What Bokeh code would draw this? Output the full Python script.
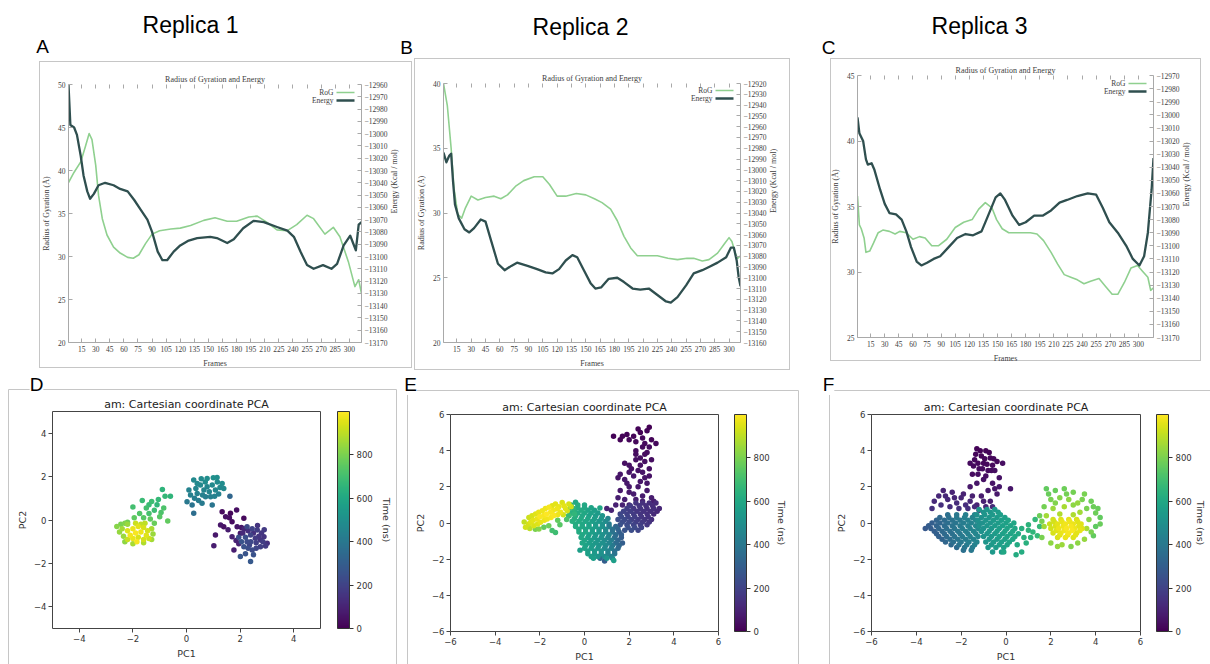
import math
from bokeh.plotting import figure
from bokeh.models import (Range1d, LinearAxis, FixedTicker, Label, BoxAnnotation, Arrow,
                          ColorBar, LinearColorMapper, ColumnDataSource)
from bokeh.layouts import row, column
from bokeh.palettes import Viridis256
from bokeh.embed import file_html
from bokeh.resources import INLINE

# ---------------------------------------------------------------- data: RoG / Energy
frame_ticks = [15, 30, 45, 60, 75, 90, 105, 120, 135, 150, 165, 180, 195, 210, 225, 240, 255, 270, 285, 300]

a_rog_ticks = [20, 25, 30, 35, 40, 45, 50]
a_en_ticks = [-13170, -13160, -13150, -13140, -13130, -13120, -13110, -13100, -13090, -13080, -13070,
              -13060, -13050, -13040, -13030, -13020, -13010, -13000, -12990, -12980, -12970, -12960]
b_rog_ticks = [20, 25, 30, 35, 40]
b_en_ticks = [-13160, -13150, -13140, -13130, -13120, -13110, -13100, -13090, -13080, -13070, -13060,
              -13050, -13040, -13030, -13020, -13010, -13000, -12990, -12980, -12970, -12960, -12950,
              -12940, -12930, -12920]
c_rog_ticks = [25, 30, 35, 40, 45]
c_en_ticks = [-13170, -13160, -13150, -13140, -13130, -13120, -13110, -13100, -13090, -13080, -13070,
              -13060, -13050, -13040, -13030, -13020, -13010, -13000, -12990, -12980, -12970]

a_rog_f = [1, 7, 14, 19, 23, 26, 30, 33, 37, 42, 49, 56, 64, 70, 76, 83, 90, 98, 110, 120,
           131, 145, 157, 170, 180, 193, 202, 212, 223, 234, 244, 255, 262, 274, 283, 290, 299, 306, 310, 313]
a_rog = [38.6, 39.8, 41.0, 42.8, 44.3, 43.6, 40.6, 37.1, 34.4, 32.5, 31.1, 30.4, 29.9, 29.8, 30.2, 31.5, 32.6, 33.0, 33.2, 33.3,
         33.6, 34.2, 34.5, 34.1, 34.1, 34.6, 34.7, 34.0, 33.1, 33.0, 33.7, 34.8, 34.4, 32.6, 33.4, 32.3, 29.4, 26.5, 27.3, 25.7]
a_en_f = [1, 3, 7, 10, 14, 17, 21, 24, 28, 33, 40, 49, 56, 64, 71, 78, 85, 90, 96, 101,
          106, 113, 120, 129, 138, 152, 159, 170, 177, 187, 198, 209, 223, 234, 241, 248, 255, 262, 272, 281,
          287, 294, 301, 304, 307, 310, 313]
a_en = [-12960, -12993, -12995, -13001, -13018, -13034, -13047, -13053, -13049, -13042,
        -13040, -13042, -13045, -13047, -13054, -13062, -13070, -13080, -13096, -13103,
        -13103, -13096, -13091, -13087, -13085, -13084, -13085, -13089, -13086, -13077,
        -13071, -13072, -13076, -13079, -13084, -13096, -13107, -13110, -13107, -13110,
        -13106, -13091, -13083, -13089, -13095, -13074, -13072]

b_rog_f = [1, 5, 9, 12, 16, 20, 24, 30, 37, 45, 54, 61, 68, 77, 85, 96, 105, 112, 120, 129,
           140, 150, 159, 167, 176, 183, 190, 197, 204, 215, 225, 236, 246, 256, 263, 272, 279, 288, 295, 300,
           303, 307, 309, 312]
b_rog = [40.0, 38.3, 35.0, 31.9, 29.9, 29.6, 30.4, 31.3, 31.0, 31.2, 31.3, 31.1, 31.4, 32.1, 32.5, 32.8, 32.8, 32.2, 31.3, 31.3,
         31.5, 31.4, 31.1, 30.8, 30.3, 29.4, 28.2, 27.3, 26.7, 26.7, 26.7, 26.5, 26.4, 26.5, 26.5, 26.3, 26.4, 26.9, 27.6, 28.1,
         27.8, 26.8, 26.5, 26.7]
b_en_f = [1, 4, 7, 9, 11, 13, 17, 23, 28, 33, 40, 45, 51, 58, 65, 72, 78, 89, 99, 108,
          115, 122, 129, 136, 141, 148, 155, 160, 166, 174, 183, 190, 199, 207, 216, 225, 234, 239, 246, 255,
          263, 272, 279, 288, 297, 302, 305, 308, 310, 312]
b_en = [-12984, -12993, -12987, -12985, -13011, -13032, -13045, -13055, -13058, -13054,
        -13046, -13048, -13066, -13087, -13093, -13089, -13086, -13089, -13092, -13095,
        -13096, -13092, -13084, -13079, -13081, -13093, -13105, -13110, -13109, -13101,
        -13100, -13104, -13110, -13111, -13110, -13116, -13122, -13123, -13118, -13107,
        -13096, -13093, -13090, -13086, -13081, -13072, -13072, -13084, -13099, -13108]

c_rog_f = [1, 3, 5, 8, 10, 14, 18, 23, 28, 35, 41, 46, 53, 60, 67, 73, 80, 87, 96, 105,
           114, 123, 130, 137, 144, 149, 155, 162, 174, 185, 192, 199, 207, 214, 221, 228, 235, 242, 249, 258,
           265, 272, 278, 285, 292, 299, 305, 310, 313, 316]
c_rog = [35.8, 33.6, 33.3, 32.6, 31.5, 31.6, 32.2, 33.0, 33.2, 33.1, 32.9, 33.1, 33.0, 32.5, 32.7, 32.6, 32.0, 32.0, 32.5, 33.4,
         33.8, 34.0, 34.8, 35.3, 34.9, 34.0, 33.3, 33.0, 33.0, 33.0, 32.9, 32.4, 31.5, 30.6, 29.8, 29.6, 29.4, 29.1, 29.3, 29.5,
         28.9, 28.3, 28.3, 29.2, 30.3, 30.5, 30.0, 29.6, 28.6, 28.8]
c_en_f = [1, 3, 7, 10, 12, 16, 19, 25, 30, 35, 42, 48, 53, 58, 64, 69, 75, 82, 89, 98,
          107, 116, 124, 133, 140, 148, 153, 158, 166, 173, 180, 189, 198, 207, 216, 224, 235, 246, 255, 262,
          269, 278, 287, 294, 301, 306, 310, 314, 316]
c_en = [-13002, -13014, -13020, -13034, -13038, -13037, -13042, -13057, -13068, -13075,
        -13076, -13080, -13089, -13101, -13112, -13115, -13113, -13110, -13108, -13101,
        -13094, -13091, -13092, -13089, -13077, -13063, -13060, -13065, -13077, -13084,
        -13082, -13077, -13077, -13073, -13067, -13065, -13062, -13060, -13061, -13071,
        -13082, -13090, -13100, -13110, -13115, -13108, -13090, -13057, -13033]

# ---------------------------------------------------------------- data: PCA (pc1, pc2, time ns)
pca_ticks_d = [-4, -2, 0, 2, 4]
pca_ticks_ef = [-6, -4, -2, 0, 2, 4, 6]
cbar_ticks = [0, 200, 400, 600, 800]

d_late = [(-2.2, -0.5, 950), (-2.0, -0.4, 970), (-1.8, -0.3, 960), (-1.6, -0.35, 940), (-1.45, -0.5, 930),
          (-2.1, -0.7, 980), (-1.9, -0.6, 990), (-1.7, -0.55, 975), (-1.5, -0.7, 955), (-2.0, -0.85, 965),
          (-1.8, -0.8, 945), (-1.6, -0.9, 935), (-1.4, -0.85, 925), (-1.85, -1.0, 985), (-2.2, -0.9, 915),
          (-1.7, -0.2, 905), (-1.55, -0.15, 900), (-1.9, -0.15, 920),
          (-2.6, -0.3, 820), (-2.5, -0.55, 840), (-2.4, -0.4, 860), (-2.35, -0.75, 850), (-2.3, -1.0, 830),
          (-2.0, -1.1, 870), (-1.6, -1.05, 880), (-1.3, -0.9, 860), (-1.25, -0.65, 850), (-2.45, -0.2, 800),
          (-2.3, -0.15, 810), (-1.3, -0.4, 870), (-2.2, -0.2, 845)]
d_green = [(-2.0, 0.6, 700), (-1.65, 0.9, 680), (-1.3, 0.85, 690), (-1.1, 0.7, 660), (-0.9, 1.4, 650),
           (-0.8, 1.1, 665), (-0.6, 1.1, 655), (-0.85, 0.55, 720), (-1.0, 0.15, 740), (-0.7, -0.05, 760),
           (-1.5, 0.55, 700), (-1.75, 0.3, 730), (-1.95, 0.1, 750), (-2.2, -0.1, 780), (-1.4, 0.3, 710),
           (-1.2, 0.45, 690), (-1.05, 0.95, 670), (-1.35, 0.05, 760), (-1.6, 0.1, 740), (-1.2, -0.15, 770),
           (-1.4, 0.7, 680), (-0.95, 0.35, 720)]
d_teal = [(0.27, 1.84, 470), (0.55, 1.9, 480), (0.77, 1.91, 490), (1.0, 1.95, 500), (1.14, 1.96, 495),
          (1.33, 1.68, 485), (1.39, 1.45, 470), (0.65, 1.38, 450), (0.4, 1.22, 440), (0.02, 0.84, 400),
          (0.21, 0.69, 380), (0.27, 0.31, 360), (0.58, 0.77, 410), (0.9, 1.07, 430), (1.08, 1.38, 460),
          (0.96, 1.61, 475), (0.52, 1.61, 465), (0.09, 1.38, 445), (0.4, 1.68, 470), (0.77, 1.53, 455),
          (0.71, 1.07, 425), (0.96, 0.69, 390), (1.2, 1.2, 440), (0.3, 1.0, 420), (0.6, 1.15, 435),
          (0.85, 1.3, 450), (1.15, 1.75, 480), (0.15, 1.15, 430), (0.45, 0.9, 415), (1.25, 1.5, 465),
          (0.7, 1.75, 485), (1.05, 1.1, 440), (0.35, 1.45, 455), (1.62, 1.1, 330)]
d_early = [(1.33, 0.38, 30), (1.64, 0.31, 20), (1.87, 0.46, 40), (1.46, 0.15, 50), (1.27, -0.23, 60),
           (1.39, -0.31, 45), (1.08, -0.69, 70), (1.02, -1.19, 80), (1.7, -0.08, 35), (1.89, -0.31, 55),
           (2.14, 0.08, 25), (1.7, -0.77, 90), (1.77, -1.38, 85), (2.01, -0.61, 65), (1.55, -0.45, 75),
           (1.85, -0.95, 95), (1.95, -1.1, 100), (2.05, -0.35, 60), (1.6, 0.1, 40),
           (2.26, -0.31, 220), (2.45, -0.4, 200), (2.64, -0.46, 180), (2.8, -0.6, 160), (2.89, -0.77, 150),
           (3.01, -1.07, 140), (2.95, -1.2, 170), (2.76, -1.23, 190), (2.6, -1.3, 210), (2.45, -1.38, 230),
           (2.3, -1.3, 240), (2.14, -1.23, 250), (2.05, -1.0, 260), (2.2, -0.8, 240), (2.39, -0.69, 200),
           (2.57, -0.84, 170), (2.76, -0.92, 150), (2.4, -1.0, 220), (2.6, -1.05, 190), (2.26, -1.0, 230),
           (2.1, -0.6, 120), (2.3, -0.5, 130), (2.5, -0.6, 140), (2.7, -0.75, 160), (2.85, -1.0, 180),
           (2.01, -1.68, 270), (2.2, -1.55, 260), (2.39, -1.91, 280), (2.5, -1.6, 250), (2.35, -1.15, 210),
           (2.15, -0.4, 110), (1.95, -0.8, 240), (2.9, -0.45, 170), (2.65, -0.25, 150)]

e_late = [(-2.64, -0.24, 930), (-2.41, 0.04, 950), (-2.12, 0.22, 970), (-1.82, 0.41, 985), (-1.52, 0.59, 990),
          (-1.22, 0.77, 975), (-0.92, 0.96, 960), (-0.7, 1.05, 940), (-2.27, -0.15, 945), (-1.97, 0.04, 965),
          (-1.67, 0.22, 980), (-1.37, 0.41, 995), (-1.07, 0.59, 970), (-0.77, 0.68, 935), (-2.49, 0.31, 925),
          (-2.19, 0.5, 955), (-1.89, 0.68, 975), (-1.59, 0.87, 985), (-1.3, 1.05, 960), (-1.0, 1.14, 945),
          (-2.5, -0.05, 935), (-2.3, 0.15, 960), (-2.0, 0.35, 990), (-1.7, 0.5, 998), (-1.4, 0.7, 980),
          (-1.15, 0.9, 965), (-0.85, 0.8, 950), (-1.2, 0.45, 975), (-1.5, 0.3, 985), (-1.8, 0.15, 970),
          (-2.1, -0.05, 950), (-2.35, 0.4, 940), (-2.05, 0.6, 965), (-1.75, 0.8, 975), (-1.45, 0.95, 955),
          (-0.6, 0.9, 920), (-2.7, 0.05, 910), (-2.45, -0.3, 900), (-0.95, 0.45, 930),
          (-1.82, -0.24, 760), (-1.45, -0.42, 700), (-1.3, -0.52, 690), (-2.04, -0.33, 820), (-1.6, -0.15, 780),
          (-1.1, -0.1, 740), (-0.8, 0.2, 720), (-2.2, -0.35, 800), (-1.2, 0.15, 760), (-0.7, 0.4, 680),
          (-0.5, 0.8, 650), (-0.45, 0.5, 660)]
e_mid = [(-0.6, 1.0, 640), (-0.3, 1.0, 620), (0.0, 1.0, 600),
         (-0.75, 0.7, 650), (-0.45, 0.7, 630), (-0.15, 0.7, 610), (0.15, 0.7, 580), (0.45, 0.7, 560),
         (-0.7, 0.4, 640), (-0.4, 0.4, 620), (-0.1, 0.4, 600), (0.2, 0.4, 570), (0.5, 0.4, 550), (0.8, 0.4, 520),
         (-0.55, 0.1, 630), (-0.25, 0.1, 610), (0.05, 0.1, 590), (0.35, 0.1, 560), (0.65, 0.1, 530), (0.95, 0.1, 480),
         (-0.4, -0.2, 620), (-0.1, -0.2, 600), (0.2, -0.2, 580), (0.5, -0.2, 550), (0.8, -0.2, 510), (1.1, -0.2, 420), (1.4, -0.2, 330),
         (-0.25, -0.5, 610), (0.05, -0.5, 590), (0.35, -0.5, 560), (0.65, -0.5, 530), (0.95, -0.5, 480), (1.25, -0.5, 380), (1.55, -0.5, 300),
         (-0.15, -0.8, 600), (0.15, -0.8, 570), (0.45, -0.8, 540), (0.75, -0.8, 510), (1.05, -0.8, 460), (1.35, -0.8, 360), (1.65, -0.8, 290),
         (-0.1, -1.1, 590), (0.2, -1.1, 560), (0.5, -1.1, 530), (0.8, -1.1, 500), (1.1, -1.1, 450), (1.4, -1.1, 350), (1.7, -1.1, 300),
         (0.0, -1.4, 580), (0.3, -1.4, 550), (0.6, -1.4, 520), (0.9, -1.4, 480), (1.2, -1.4, 420), (1.5, -1.4, 340),
         (0.15, -1.7, 570), (0.45, -1.7, 540), (0.75, -1.7, 500), (1.05, -1.7, 450), (1.35, -1.7, 380),
         (0.4, -1.95, 560), (0.7, -1.95, 350), (1.0, -1.95, 520), (1.25, -1.95, 470),
         (-0.6, 0.85, 640), (-0.3, 0.85, 620), (0.0, 0.85, 600), (0.3, 0.85, 580),
         (-0.6, 0.55, 635), (-0.3, 0.55, 615), (0.0, 0.55, 595), (0.3, 0.55, 570), (0.6, 0.55, 545),
         (-0.45, 0.25, 625), (-0.15, 0.25, 605), (0.15, 0.25, 585), (0.45, 0.25, 555), (0.75, 0.25, 520), (1.05, 0.25, 450),
         (-0.4, -0.05, 615), (-0.1, -0.05, 595), (0.2, -0.05, 575), (0.5, -0.05, 545), (0.8, -0.05, 505), (1.1, -0.05, 420),
         (-0.25, -0.35, 605), (0.05, -0.35, 585), (0.35, -0.35, 555), (0.65, -0.35, 525), (0.95, -0.35, 470), (1.25, -0.35, 370), (1.5, -0.35, 320),
         (-0.1, -0.65, 595), (0.2, -0.65, 565), (0.5, -0.65, 535), (0.8, -0.65, 505), (1.1, -0.65, 450), (1.4, -0.65, 350), (1.65, -0.65, 300),
         (0.0, -0.95, 585), (0.3, -0.95, 555), (0.6, -0.95, 525), (0.9, -0.95, 480), (1.2, -0.95, 420), (1.5, -0.95, 330),
         (0.05, -1.25, 575), (0.35, -1.25, 545), (0.65, -1.25, 515), (0.95, -1.25, 470), (1.25, -1.25, 400), (1.55, -1.25, 330),
         (0.15, -1.55, 565), (0.45, -1.55, 535), (0.75, -1.55, 505), (1.05, -1.55, 450), (1.35, -1.55, 370),
         (0.3, -1.85, 555), (0.6, -1.85, 520), (0.9, -1.85, 480), (1.2, -1.85, 430),
         (-0.4, 1.15, 600), (0.69, 0.83, 590), (1.31, -2.08, 560), (0.9, -2.1, 300), (-0.2, -1.5, 560)]
e_indigo = [(2.3, 1.1, 150), (2.6, 1.1, 140), (2.9, 1.1, 130), (3.2, 1.1, 120),
            (1.9, 0.8, 180), (2.2, 0.8, 160), (2.5, 0.8, 150), (2.8, 0.8, 140), (3.1, 0.8, 130), (3.35, 0.8, 110),
            (1.6, 0.5, 210), (1.9, 0.5, 190), (2.2, 0.5, 170), (2.5, 0.5, 150), (2.8, 0.5, 140), (3.1, 0.5, 120),
            (1.5, 0.2, 240), (1.8, 0.2, 220), (2.1, 0.2, 190), (2.4, 0.2, 170), (2.7, 0.2, 150), (3.0, 0.2, 130),
            (1.6, -0.1, 250), (1.9, -0.1, 230), (2.2, -0.1, 200), (2.5, -0.1, 180), (2.8, -0.1, 160),
            (1.8, -0.4, 260), (2.1, -0.4, 240), (2.4, -0.4, 210),
            (2.05, 0.95, 170), (2.45, 0.95, 155), (2.75, 0.95, 140), (3.05, 0.95, 125),
            (1.75, 0.65, 200), (2.05, 0.65, 180), (2.35, 0.65, 160), (2.65, 0.65, 145), (2.95, 0.65, 135), (3.25, 0.65, 115),
            (1.65, 0.35, 225), (1.95, 0.35, 200), (2.25, 0.35, 180), (2.55, 0.35, 160), (2.85, 0.35, 145),
            (1.7, 0.05, 235), (2.0, 0.05, 215), (2.3, 0.05, 185), (2.6, 0.05, 165), (2.9, 0.05, 150),
            (1.95, -0.25, 245), (2.25, -0.25, 220), (2.55, -0.25, 195)]
e_early = [(1.3, 4.8, 10), (1.6, 4.6, 15), (1.9, 4.9, 8), (2.2, 4.8, 12), (2.5, 5.0, 5), (2.8, 5.1, 10),
           (2.9, 5.3, 6), (2.6, 4.7, 18), (2.3, 4.5, 20), (3.0, 4.6, 14), (3.2, 4.4, 22), (2.7, 4.4, 25),
           (2.0, 4.6, 16), (1.7, 4.8, 12), (2.4, 5.2, 8),
           (2.9, 4.2, 30), (2.7, 3.8, 35), (2.3, 3.5, 40), (2.5, 3.2, 45), (2.1, 3.0, 50), (2.9, 3.0, 45),
           (1.8, 3.3, 40), (2.6, 2.8, 55), (2.2, 2.6, 60), (1.8, 2.4, 65), (2.8, 2.2, 60), (1.5, 2.5, 55),
           (2.3, 4.0, 30), (2.6, 4.2, 28), (2.3, 3.8, 35), (2.0, 3.2, 45), (2.7, 3.4, 40), (3.0, 3.5, 38),
           (2.4, 2.9, 50), (2.0, 2.8, 55), (1.6, 2.7, 60), (2.9, 2.6, 50), (2.5, 3.6, 38), (2.8, 3.9, 32),
           (2.0, 1.0, 90), (2.3, 1.3, 80), (2.6, 1.5, 75), (2.0, 1.7, 70), (2.4, 2.0, 65), (1.6, 1.8, 70),
           (1.2, 0.7, 100), (1.0, 0.8, 95), (1.4, 1.0, 90), (2.0, 2.0, 65), (2.7, 2.5, 55), (1.8, 1.3, 85),
           (2.2, 1.6, 75), (2.8, 1.8, 70), (3.0, 1.4, 80), (1.5, 1.4, 85), (2.5, 2.3, 60), (1.9, 2.2, 65),
           (1.7, 1.0, 95), (3.1, 1.2, 85), (2.6, 1.2, 85)]

f_early = [(-1.3, 4.1, 10), (-0.9, 4.0, 12), (-1.1, 3.7, 15), (-0.7, 3.6, 18), (-1.4, 3.5, 20), (-1.0, 3.3, 22),
           (-0.6, 3.2, 25), (-1.2, 3.0, 28), (-0.8, 2.9, 30), (-1.5, 2.7, 35), (-0.4, 3.4, 20), (-1.15, 4.0, 8),
           (-0.75, 3.9, 14), (-1.35, 3.8, 16), (-0.95, 3.55, 18), (-0.55, 3.55, 22), (-1.25, 3.3, 24),
           (-0.85, 3.25, 26), (-1.45, 3.15, 30), (-1.05, 3.0, 32), (-0.65, 2.9, 34), (-1.25, 2.7, 38),
           (-0.9, 2.6, 40), (-0.5, 2.9, 36), (-1.6, 3.3, 28),
           (-0.3, 2.5, 50), (-0.6, 2.2, 55), (-1.0, 2.4, 50), (-1.3, 2.2, 60), (-0.8, 1.8, 65), (-0.4, 1.6, 70),
           (-1.1, 1.5, 75), (-0.7, 1.2, 80), (0.2, 1.9, 60), (-0.15, 3.3, 40), (-0.3, 2.0, 65), (-1.6, 2.0, 70),
           (-0.5, 1.9, 60), (-1.0, 1.2, 90), (-0.9, 0.9, 110), (-1.3, 1.0, 100), (-0.6, 0.9, 120),
           (-3.2, 1.2, 120), (-3.0, 1.5, 110), (-2.8, 1.8, 100), (-2.6, 1.3, 115), (-2.4, 1.7, 100),
           (-2.2, 1.1, 125), (-2.0, 1.4, 105), (-1.8, 1.0, 130), (-1.6, 1.2, 110), (-1.4, 0.9, 125),
           (-3.3, 0.8, 140), (-2.9, 1.0, 135), (-2.5, 0.9, 130), (-1.9, 1.6, 95), (-1.5, 1.5, 90),
           (-1.2, 0.7, 140), (-2.7, 1.5, 110), (-2.3, 1.4, 105), (-1.7, 0.8, 135), (-2.1, 0.8, 140)]
f_blue = [(-2.6, 0.45, 370), (-2.2, 0.45, 400), (-1.8, 0.45, 430), (-1.4, 0.45, 450),
          (-3.1, 0.15, 320), (-2.75, 0.15, 350), (-2.4, 0.15, 380), (-2.05, 0.15, 410), (-1.7, 0.15, 440), (-1.35, 0.15, 460),
          (-3.45, -0.15, 290), (-3.1, -0.15, 320), (-2.75, -0.15, 350), (-2.4, -0.15, 380), (-2.05, -0.15, 410), (-1.7, -0.15, 440), (-1.35, -0.15, 460),
          (-3.2, -0.45, 300), (-2.85, -0.45, 340), (-2.5, -0.45, 370), (-2.15, -0.45, 400), (-1.8, -0.45, 430), (-1.45, -0.45, 450), (-1.1, -0.45, 470),
          (-3.0, -0.75, 310), (-2.65, -0.75, 350), (-2.3, -0.75, 380), (-1.95, -0.75, 410), (-1.6, -0.75, 440), (-1.25, -0.75, 460),
          (-2.7, -1.05, 330), (-2.35, -1.05, 370), (-2.0, -1.05, 400), (-1.65, -1.05, 430), (-1.3, -1.05, 450),
          (-2.2, -1.35, 350), (-1.85, -1.35, 390), (-1.5, -1.35, 420),
          (-2.95, 0.3, 340), (-2.55, 0.3, 370), (-2.2, 0.3, 400), (-1.85, 0.3, 430), (-1.5, 0.3, 450),
          (-3.3, 0.0, 300), (-2.95, 0.0, 330), (-2.6, 0.0, 360), (-2.25, 0.0, 390), (-1.9, 0.0, 420), (-1.55, 0.0, 445), (-1.2, 0.0, 465),
          (-3.35, -0.3, 295), (-3.0, -0.3, 330), (-2.65, -0.3, 360), (-2.3, -0.3, 390), (-1.95, -0.3, 420), (-1.6, -0.3, 445), (-1.25, -0.3, 465),
          (-3.1, -0.6, 305), (-2.75, -0.6, 340), (-2.4, -0.6, 370), (-2.05, -0.6, 400), (-1.7, -0.6, 430), (-1.35, -0.6, 455),
          (-2.85, -0.9, 320), (-2.5, -0.9, 360), (-2.15, -0.9, 390), (-1.8, -0.9, 420), (-1.45, -0.9, 445),
          (-2.45, -1.2, 340), (-2.1, -1.2, 380), (-1.75, -1.2, 410), (-1.4, -1.2, 440),
          (-1.9, -1.5, 370), (-1.55, -1.5, 400), (-3.6, -0.3, 280)]
f_teal = [(-1.2, 0.75, 520), (-0.85, 0.75, 530), (-0.5, 0.75, 540),
          (-1.3, 0.45, 500), (-0.95, 0.45, 520), (-0.6, 0.45, 540), (-0.25, 0.45, 560),
          (-1.25, 0.15, 500), (-0.9, 0.15, 520), (-0.55, 0.15, 545), (-0.2, 0.15, 565), (0.1, 0.15, 580),
          (-1.2, -0.15, 500), (-0.85, -0.15, 525), (-0.5, -0.15, 550), (-0.15, -0.15, 570), (0.2, -0.15, 585),
          (-1.1, -0.45, 510), (-0.75, -0.45, 530), (-0.4, -0.45, 555), (-0.05, -0.45, 575), (0.3, -0.45, 590),
          (-1.0, -0.75, 515), (-0.65, -0.75, 535), (-0.3, -0.75, 560), (0.05, -0.75, 580), (0.4, -0.75, 595),
          (-0.9, -1.05, 520), (-0.55, -1.05, 545), (-0.2, -1.05, 565), (0.15, -1.05, 585),
          (-0.8, -1.35, 530), (-0.45, -1.35, 550), (-0.1, -1.35, 570),
          (-0.6, -1.6, 540), (-0.2, -1.6, 560),
          (-1.0, 0.6, 515), (-0.7, 0.6, 530), (-0.35, 0.6, 550),
          (-1.1, 0.3, 505), (-0.75, 0.3, 525), (-0.4, 0.3, 545), (-0.05, 0.3, 565),
          (-1.05, 0.0, 505), (-0.7, 0.0, 525), (-0.35, 0.0, 550), (0.0, 0.0, 570), (0.35, 0.0, 590),
          (-1.0, -0.3, 510), (-0.65, -0.3, 530), (-0.3, -0.3, 555), (0.05, -0.3, 575), (0.4, -0.3, 590),
          (-0.85, -0.6, 520), (-0.5, -0.6, 545), (-0.15, -0.6, 565), (0.2, -0.6, 580), (0.55, -0.6, 600),
          (-0.75, -0.9, 525), (-0.4, -0.9, 550), (-0.05, -0.9, 570), (0.3, -0.9, 590),
          (-0.65, -1.2, 540), (-0.3, -1.2, 560), (0.05, -1.2, 575),
          (0.5, -1.2, 610), (0.7, -1.6, 620), (0.45, -1.75, 615), (0.8, -0.8, 640), (1.0, -0.4, 650),
          (1.2, -0.5, 660), (1.5, -0.2, 670), (1.0, -0.1, 645), (1.3, 0.2, 665), (0.7, -0.3, 630),
          (1.1, -0.8, 650), (0.9, -1.1, 635), (-0.1, -1.6, 600), (1.4, -0.7, 670)]
f_late = [(2.1, 0.2, 930), (2.45, 0.2, 950), (2.8, 0.2, 960), (3.15, 0.2, 940),
          (1.95, -0.05, 920), (2.3, -0.05, 960), (2.65, -0.05, 980), (3.0, -0.05, 970), (3.35, -0.05, 950),
          (2.0, -0.3, 930), (2.35, -0.3, 970), (2.7, -0.3, 990), (3.05, -0.3, 975), (3.4, -0.3, 955),
          (2.1, -0.55, 940), (2.45, -0.55, 965), (2.8, -0.55, 985), (3.15, -0.55, 960),
          (2.3, -0.8, 945), (2.65, -0.8, 970), (3.0, -0.8, 950),
          (2.15, 0.07, 935), (2.5, 0.07, 965), (2.85, 0.07, 975), (3.2, 0.07, 955),
          (2.2, -0.18, 945), (2.55, -0.18, 975), (2.9, -0.18, 985), (3.25, -0.18, 960),
          (2.25, -0.42, 950), (2.6, -0.42, 980), (2.95, -0.42, 990), (3.3, -0.42, 965),
          (2.4, -0.67, 955), (2.75, -0.67, 975), (3.1, -0.67, 960),
          (1.8, 1.9, 760), (2.2, 1.8, 770), (2.6, 1.9, 780), (3.0, 1.7, 790), (3.5, 1.6, 800), (3.8, 1.2, 780),
          (4.1, 0.8, 770), (4.2, 0.3, 760), (4.0, -0.2, 750), (3.9, -0.7, 760), (2.0, 1.3, 800), (2.4, 1.4, 820),
          (2.8, 1.3, 830), (3.2, 1.1, 840), (3.6, 0.8, 800), (1.7, 0.9, 790), (2.1, 0.8, 850), (2.6, 0.9, 870),
          (3.3, 0.6, 860), (3.7, 0.2, 820), (1.5, 0.4, 780), (1.6, -0.8, 800), (2.0, -1.1, 830), (2.9, -1.3, 810),
          (3.5, -0.9, 840), (2.5, -1.2, 850), (1.8, 0.4, 860), (2.4, 0.5, 880), (3.0, 0.45, 875), (3.6, -0.3, 870),
          (1.7, -0.2, 860), (2.2, 1.1, 810), (3.0, 1.0, 830), (2.7, 1.6, 790), (3.4, 1.3, 800), (4.0, 0.55, 780),
          (4.2, -0.05, 770), (3.8, -0.5, 800), (1.9, 1.6, 770), (1.6, 0.1, 800), (3.2, -1.1, 830), (2.3, -1.3, 840),
          (3.9, 0.9, 775)]

# ---------------------------------------------------------------- styles
SERIF = "Liberation Serif"
HEAD_FONT = "Liberation Sans"
MPL_FONT = "DejaVu Sans"
AX_GRAY = "#a9a9a9"
GP_TXT = "#404040"
ROG_COLOR = "#8fd08f"
EN_COLOR = "#2f4f4f"
BOX_GRAY = "#c6c6c6"
MPL_TXT = "#333333"


def box_shadow(w, h, bl=None, br=None, bt=None, bb=None):
    """CSS inset shadows drawing a thin panel frame at the given pixel columns / rows."""
    whites, grays = [], []
    if bt is not None:
        whites.append(f"inset 0 {bt}px 0 0 #ffffff")
        grays.append(f"inset 0 {bt + 1}px 0 0 {BOX_GRAY}")
    if bb is not None:
        whites.append(f"inset 0 -{h - 1 - bb}px 0 0 #ffffff")
        grays.append(f"inset 0 -{h - bb}px 0 0 {BOX_GRAY}")
    if bl is not None:
        whites.append(f"inset {bl}px 0 0 0 #ffffff")
        grays.append(f"inset {bl + 1}px 0 0 0 {BOX_GRAY}")
    if br is not None:
        whites.append(f"inset -{w - 1 - br}px 0 0 0 #ffffff")
        grays.append(f"inset -{w - br}px 0 0 0 {BOX_GRAY}")
    return ", ".join(whites + grays)


def strip(width, height):
    p = figure(width=width, height=height, x_range=Range1d(0, width), y_range=Range1d(0, height),
               output_backend="svg", toolbar_location=None, title=None, min_border=0,
               x_axis_location=None, y_axis_location=None)
    p.outline_line_color = None
    p.xgrid.visible = False
    p.ygrid.visible = False
    p.min_border_left = p.min_border_right = p.min_border_top = p.min_border_bottom = 0
    return p


def strip_text(p, height, x, ref_baseline, text, size_px):
    # centre of the em box sits about 0.35 em above the baseline
    cy = ref_baseline - 0.35 * size_px
    p.add_layout(Label(x=x, y=height - cy, text=text, text_font=HEAD_FONT, text_font_size=f"{size_px}px",
                       text_color="black", text_align="center", text_baseline="middle",
                       background_fill_color="white", background_fill_alpha=1.0))


def style_gp_axis(ax, ticks):
    ax.ticker = FixedTicker(ticks=ticks)
    ax.major_tick_in = 4
    ax.major_tick_out = 0
    ax.minor_tick_line_color = None
    ax.axis_line_color = AX_GRAY
    ax.major_tick_line_color = AX_GRAY
    ax.major_label_text_font = SERIF
    ax.major_label_text_font_size = "7.5px"
    ax.major_label_text_color = GP_TXT
    ax.major_label_standoff = 3
    ax.axis_label_text_font = SERIF
    ax.axis_label_text_font_size = "8px"
    ax.axis_label_text_font_style = "normal"
    ax.axis_label_text_color = GP_TXT
    ax.axis_label_standoff = 4


def set_title(p, text, font, size, color):
    p.title.text = text
    p.title.align = "center"
    p.title.vertical_align = "middle"
    p.title.text_font = font
    p.title.text_font_size = size
    p.title.text_font_style = "normal"
    p.title.text_color = color
    try:
        p.title.standoff = 0
    except Exception:
        pass


def add_mirror_ticks(p, ticks):
    """Unlabelled axis right above the frame carrying the gnuplot mirror ticks."""
    ax = LinearAxis(ticker=FixedTicker(ticks=ticks), axis_line_color=None, major_tick_in=4,
                    major_tick_out=0, minor_tick_line_color=None, major_tick_line_color=AX_GRAY,
                    major_label_text_font_size="1px", major_label_text_alpha=0,
                    major_label_standoff=0)
    p.add_layout(ax, "above")
    others = [r for r in p.above if r is not ax]
    p.above = [ax] + others


def rog_panel(fw, fh, L, T, W, H, xr, rog_rng, rog_ticks, en_rng, en_ticks, rf, rv, ef, ev, box):
    p = figure(width=fw, height=fh, x_range=Range1d(*xr), y_range=Range1d(*rog_rng),
               output_backend="svg", toolbar_location=None, title="",
               min_border_left=L, min_border_right=fw - L - W, min_border_top=T,
               min_border_bottom=fh - T - H)
    p.outline_line_color = None
    p.xgrid.visible = False
    p.ygrid.visible = False
    p.background_fill_color = "white"
    p.border_fill_alpha = 0
    p.extra_y_ranges = {"energy": Range1d(*en_rng)}
    set_title(p, "Radius of Gyration and Energy", SERIF, "8px", GP_TXT)

    style_gp_axis(p.xaxis[0], frame_ticks)
    p.xaxis[0].axis_label = "Frames"
    style_gp_axis(p.yaxis[0], rog_ticks)
    p.yaxis[0].axis_label = "Radius of Gyration (Å)"

    ax_r = LinearAxis(y_range_name="energy")
    style_gp_axis(ax_r, en_ticks)
    ax_r.axis_label = "Energy (Kcal / mol)"
    try:
        ax_r.axis_label_orientation = math.pi / 2
    except Exception:
        pass
    p.add_layout(ax_r, "right")
    add_mirror_ticks(p, frame_ticks)

    p.line(rf, rv, line_color=ROG_COLOR, line_width=1.6, line_join="round")
    p.line(ef, ev, y_range_name="energy", line_color=EN_COLOR, line_width=2.3, line_join="round")

    for i, (name, col, lw) in enumerate([("RoG", ROG_COLOR, 1.6), ("Energy", EN_COLOR, 2.3)]):
        yy = H - 8 - 8 * i
        p.add_layout(Label(x=W - 28, y=yy, x_units="screen", y_units="screen", text=name,
                           text_align="right", text_baseline="middle", text_font=SERIF,
                           text_font_size="7.5px", text_color=GP_TXT))
        p.add_layout(Arrow(end=None, x_start=W - 25, y_start=yy, x_end=W - 7, y_end=yy,
                           start_units="screen", end_units="screen", line_color=col, line_width=lw))
    p.styles = {"box-shadow": box_shadow(fw, fh, *box)}
    return p


def pca_panel(fw, fh, L, T, W, H, rng, ticks, clusters, cb_gap, tlab_standoff, box):
    p = figure(width=fw, height=fh, x_range=Range1d(*rng), y_range=Range1d(*rng),
               output_backend="svg", toolbar_location=None, title="",
               min_border_left=L, min_border_right=fw - L - W, min_border_top=T,
               min_border_bottom=fh - T - H)
    p.outline_line_color = "#444444"
    p.outline_line_width = 1
    p.xgrid.visible = False
    p.ygrid.visible = False
    p.background_fill_color = "white"
    p.border_fill_alpha = 0
    set_title(p, "am: Cartesian coordinate PCA", MPL_FONT, "11px", "#222222")
    for ax in (p.xaxis[0], p.yaxis[0]):
        ax.ticker = FixedTicker(ticks=ticks)
        ax.major_label_overrides = {t: ("\u2212" + str(-t) if t < 0 else str(t)) for t in ticks}
        ax.axis_line_color = None
        ax.major_tick_out = 4
        ax.major_tick_in = 0
        ax.major_tick_line_color = "#444444"
        ax.minor_tick_line_color = None
        ax.major_label_text_font = MPL_FONT
        ax.major_label_text_font_size = "8.5px"
        ax.major_label_text_color = MPL_TXT
        ax.major_label_standoff = 2
        ax.axis_label_text_font = MPL_FONT
        ax.axis_label_text_font_size = "9.5px"
        ax.axis_label_text_font_style = "normal"
        ax.axis_label_text_color = MPL_TXT
        ax.axis_label_standoff = 3
    p.xaxis[0].axis_label = "PC1"
    p.yaxis[0].axis_label = "PC2"

    pts = sorted([q for c in clusters for q in c], key=lambda q: q[2])
    src = ColumnDataSource(dict(pc1=[q[0] for q in pts], pc2=[q[1] for q in pts], time=[q[2] for q in pts]))
    mapper = LinearColorMapper(palette=Viridis256, low=0, high=1000)
    p.scatter("pc1", "pc2", source=src, size=5.5, fill_color={"field": "time", "transform": mapper},
              line_color=None)

    cb = ColorBar(color_mapper=mapper, location=(W + cb_gap, 0), width=12, height=H, padding=0, margin=0,
                  ticker=FixedTicker(ticks=cbar_ticks), major_tick_out=4, major_tick_in=0,
                  major_tick_line_color="#333333", minor_tick_line_color=None,
                  bar_line_color="#333333", border_line_color=None, background_fill_alpha=0,
                  major_label_text_font=MPL_FONT, major_label_text_font_size="8.5px",
                  major_label_text_color=MPL_TXT, label_standoff=3)
    p.add_layout(cb, "center")

    ax_t = LinearAxis(ticker=FixedTicker(ticks=[]), axis_line_color=None, major_tick_line_color=None,
                      minor_tick_line_color=None, axis_label="Time (ns)",
                      axis_label_text_font=MPL_FONT, axis_label_text_font_size="9.5px",
                      axis_label_text_font_style="normal", axis_label_text_color=MPL_TXT,
                      axis_label_standoff=tlab_standoff, major_label_standoff=0)
    p.add_layout(ax_t, "right")
    p.styles = {"box-shadow": box_shadow(fw, fh, *box)}
    return p


# ---------------------------------------------------------------- header strip (y 0..58)
HEAD_H = 58
head = strip(1210, HEAD_H)
strip_text(head, HEAD_H, 190, 33, "Replica 1", 23)
strip_text(head, HEAD_H, 580, 35, "Replica 2", 23)
strip_text(head, HEAD_H, 979, 34, "Replica 3", 23)
strip_text(head, HEAD_H, 42, 53, "A", 19)
strip_text(head, HEAD_H, 406, 54, "B", 19)
strip_text(head, HEAD_H, 828, 54, "C", 19)

# ---------------------------------------------------------------- top charts (y 58..370)
TOP_H = 312
pA = rog_panel(413, TOP_H, 68, 26, 293, 258, (1, 313), (20, 50), a_rog_ticks, (-13170, -12960), a_en_ticks,
               a_rog_f, a_rog, a_en_f, a_en, (39, 411, 3, 309))
pB = rog_panel(399, TOP_H, 30, 25, 297, 260, (1, 312), (20, 40), b_rog_ticks, (-13160, -12920), b_en_ticks,
               b_rog_f, b_rog, b_en_f, b_en, (1, 376, 0, 311))
pC = rog_panel(398, TOP_H, 45, 17, 296, 262, (1, 316), (25, 45), c_rog_ticks, (-13170, -12970), c_en_ticks,
               c_rog_f, c_rog, c_en_f, c_en, (18, 388, 0, 302))

# ---------------------------------------------------------------- middle strip (y 370..395)
MID_Y0, MID_H = 370, 25
mid = strip(1210, MID_H)
for (l, r, t) in [(8, 396, 389), (407, 798, 390), (829, 1215, 390)]:
    mid.add_layout(BoxAnnotation(left=l, right=r, top=MID_Y0 + MID_H - t, bottom=-20,
                                 fill_alpha=0, line_color=BOX_GRAY, line_alpha=1, line_width=1))
strip_text(mid, MID_H, 36, 391 - MID_Y0, "D", 19)
strip_text(mid, MID_H, 410, 391 - MID_Y0, "E", 19)
strip_text(mid, MID_H, 828, 391 - MID_Y0, "F", 19)

# ---------------------------------------------------------------- bottom charts (y 395..664)
BOT_H = 269
pD = pca_panel(402, BOT_H, 52, 16, 268, 217, (-5, 5), pca_ticks_d, [d_early, d_teal, d_green, d_late],
               17, 60, (8, 396, None, None))
pE = pca_panel(410, BOT_H, 48, 19, 268, 217, (-6, 6), pca_ticks_ef, [e_early, e_indigo, e_mid, e_late],
               16, 57, (5, 396, None, None))
pF = pca_panel(398, BOT_H, 59, 19, 269, 217, (-6, 6), pca_ticks_ef, [f_early, f_blue, f_teal, f_late],
               16, 54, (17, None, None, None))

layout = column(head,
                row(column(pA), column(pB), column(pC)),
                mid,
                row(column(pD), column(pE), column(pF)))
open("out.html", "w").write(file_html(layout, INLINE))
